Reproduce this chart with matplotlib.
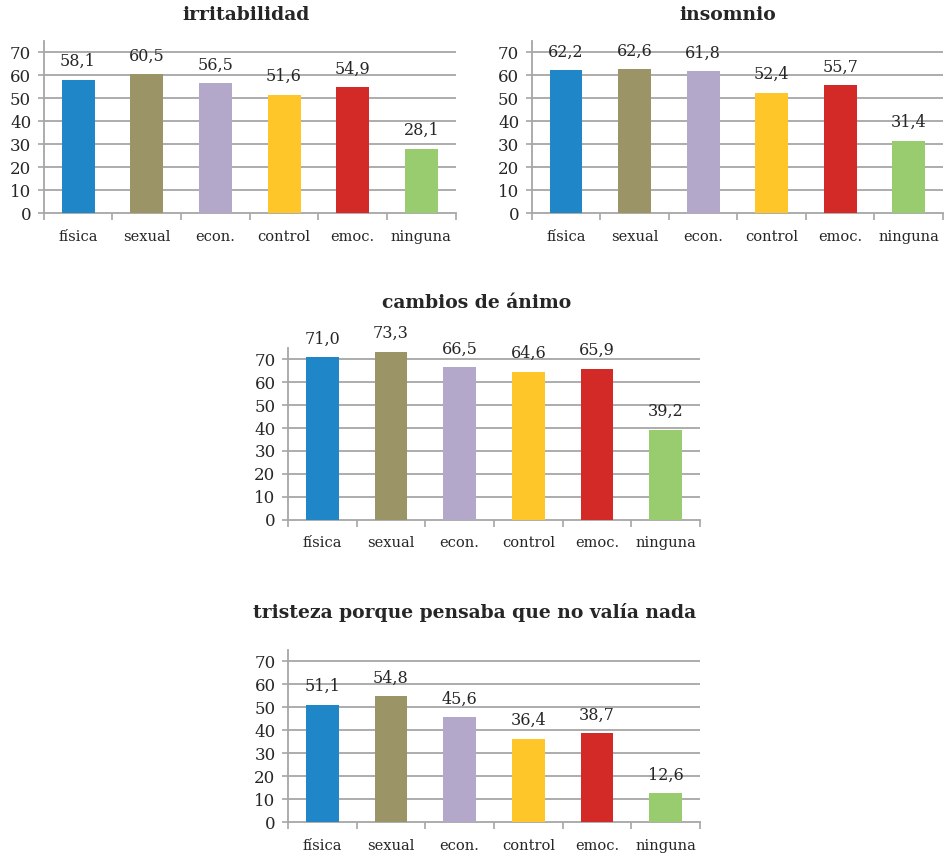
import matplotlib
matplotlib.use("Agg")
import matplotlib.pyplot as plt
import numpy as np

categories = ["física", "sexual", "econ.", "control", "emoc.", "ninguna"]
colors = ["#1F86C8", "#9A9467", "#B3A8C9", "#FFC629", "#D42A27", "#98CC6E"]

titles = ["irritabilidad", "insomnio", "cambios de ánimo",
          "tristeza porque pensaba que no valía nada"]
irritabilidad = [58.1, 60.5, 56.5, 51.6, 54.9, 28.1]
insomnio = [62.2, 62.6, 61.8, 52.4, 55.7, 31.4]
cambios_animo = [71.0, 73.3, 66.5, 64.6, 65.9, 39.2]
tristeza = [51.1, 54.8, 45.6, 36.4, 38.7, 12.6]
series = [irritabilidad, insomnio, cambios_animo, tristeza]
yticks = [0, 10, 20, 30, 40, 50, 60, 70]

plt.rcParams['font.family'] = ['DejaVu Serif']

fig = plt.figure(figsize=(9.45, 8.55), dpi=100)

W, H = 945, 855
boxes = [(43.7, 41, 455.7, 213), (531.7, 41, 943, 213),
         (288, 348, 700, 519.5), (288, 650, 700, 822)]
title_pos = [(246, 15), (728, 15), (477, 303), (475, 612)]

grid_c = "#A6A6A6"
text_c = "#262626"

for i, (vals, title) in enumerate(zip(series, titles)):
    x0, y0, x1, y1 = boxes[i]
    ax = fig.add_axes([x0 / W, 1 - y1 / H, (x1 - x0) / W, (y1 - y0) / H])
    x = np.arange(len(categories))
    ax.bar(x, vals, width=0.48, color=colors, zorder=3)
    for xi, v in zip(x, vals):
        ax.annotate(f"{v:.1f}".replace(".", ","), (xi, v), xytext=(0, 7),
                    textcoords="offset points", ha="center", va="bottom",
                    fontsize=11.5, color=text_c, zorder=4)
    ax.set_xlim(-0.5, len(categories) - 0.5)
    ax.set_ylim(0, 75)
    ax.set_yticks(yticks)
    ax.set_yticklabels([str(t) for t in yticks], fontsize=12, color=text_c)
    ax.set_xticks(x)
    ax.set_xticklabels(categories, fontsize=10.5, color=text_c)
    ax.set_xticks(np.arange(-0.5, len(categories), 1.0), minor=True)
    ax.tick_params(axis="x", which="major", length=0, pad=12)
    ax.tick_params(axis="x", which="minor", length=5, color=grid_c, width=1.2)
    ax.tick_params(axis="y", length=4, color=grid_c, width=1.2, pad=5)
    for yt in yticks[1:]:
        ax.axhline(yt, color=grid_c, linewidth=1.3, zorder=1)
    for s in ["top", "right"]:
        ax.spines[s].set_visible(False)
    for s in ["left", "bottom"]:
        ax.spines[s].set_color(grid_c)
        ax.spines[s].set_linewidth(1.3)
    tx, ty = title_pos[i]
    fig.text(tx / W, 1 - ty / H, title, ha="center", va="center",
             fontsize=13.5, fontweight="bold", color=text_c)

fig.savefig("out.png", dpi=100)
